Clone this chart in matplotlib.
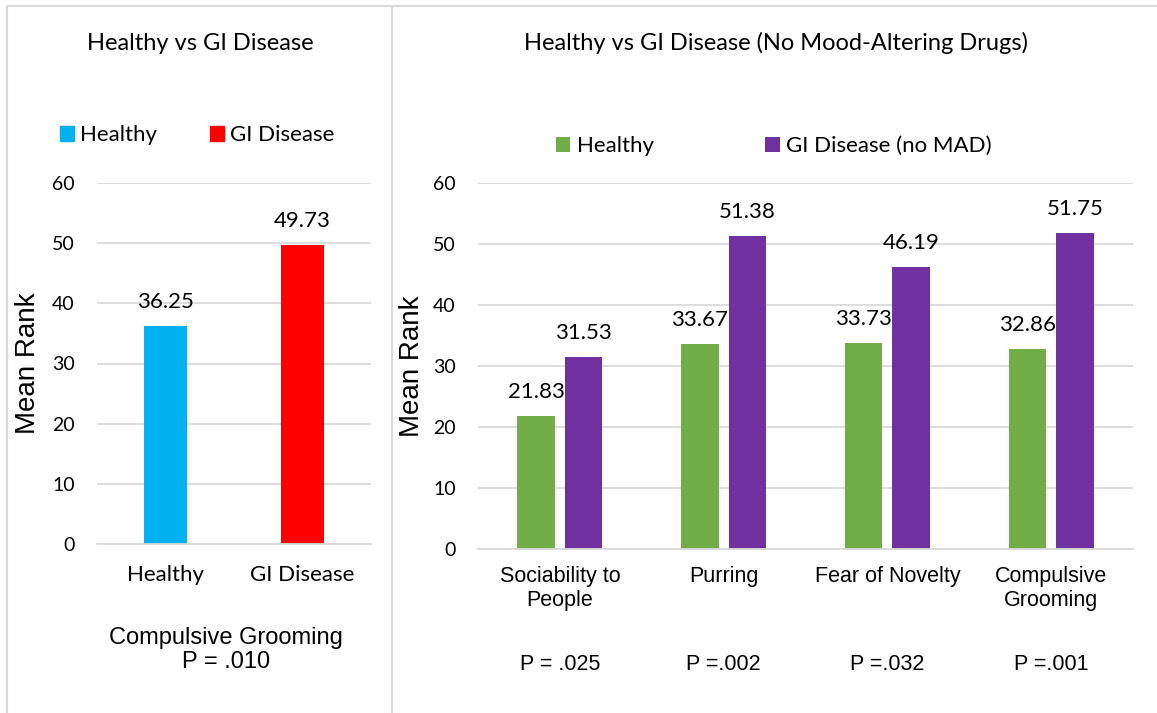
import matplotlib
matplotlib.use("Agg")
import matplotlib.pyplot as plt
from matplotlib.patches import Rectangle, Patch
from matplotlib.transforms import blended_transform_factory
import numpy as np

# ---- data ----
left_categories = ["Healthy", "GI Disease"]
left_values = [36.25, 49.73]
left_colors = ["#00B0F0", "#FF0000"]

right_categories = ["Sociability to\nPeople", "Purring", "Fear of Novelty", "Compulsive\nGrooming"]
healthy_values = [21.83, 33.67, 33.73, 32.86]
gi_nomad_values = [31.53, 51.38, 46.19, 51.75]
p_values = ["P = .025", "P =.002", "P =.032", "P =.001"]
yticks = [0, 10, 20, 30, 40, 50, 60]

W, H = 1157, 713
fig = plt.figure(figsize=(W / 100, H / 100), dpi=100)

CAL = ["Lato", "DejaVu Sans"]
ARI = ["Liberation Sans", "DejaVu Sans"]
GRID = "#D9D9D9"

# panel frames
fig.patches.append(Rectangle((7 / W, -0.01), (392 - 7) / W, 1 - 6 / H + 0.01, transform=fig.transFigure,
                             fill=False, edgecolor=GRID, linewidth=1.5))
fig.patches.append(Rectangle((392 / W, -0.01), (1160 - 392) / W, 1 - 6 / H + 0.01, transform=fig.transFigure,
                             fill=False, edgecolor=GRID, linewidth=1.5))


def style(ax):
    ax.set_ylim(0, 60)
    ax.set_yticks(yticks)
    ax.grid(axis="y", color=GRID, linewidth=1.3)
    ax.set_axisbelow(True)
    for s in ["top", "right", "left"]:
        ax.spines[s].set_visible(False)
    ax.spines["bottom"].set_color(GRID)
    ax.spines["bottom"].set_linewidth(1.3)
    ax.tick_params(length=0)
    for lab in ax.get_yticklabels():
        lab.set_fontfamily(CAL)
        lab.set_fontsize(14)
    ax.tick_params(axis="y", pad=16)
    ax.set_ylabel("Mean Rank", fontsize=20, family=ARI)


def label_bars(ax, bars, vals):
    for b, v in zip(bars, vals):
        ax.annotate(f"{v:.2f}", (b.get_x() + b.get_width() / 2, v), xytext=(0, 10),
                    textcoords="offset points", ha="center", va="bottom", fontsize=16, family=CAL)


# ---- left panel ----
axL = fig.add_axes([97 / W, 1 - 544 / H, (371 - 97) / W, (544 - 183) / H])
xl = np.arange(len(left_categories))
barsL = axL.bar(xl, left_values, width=0.314, color=left_colors)
axL.set_xlim(-0.5, 1.5)
axL.set_xticks(xl)
axL.set_xticklabels(left_categories, fontsize=16, family=CAL)
axL.tick_params(axis="x", pad=15)
style(axL)
axL.yaxis.set_label_coords(41 / W, 0.5, transform=blended_transform_factory(fig.transFigure, axL.transAxes))
label_bars(axL, barsL, left_values)
axL.legend(handles=[Patch(color=left_colors[0], label="Healthy"), Patch(color=left_colors[1], label="GI Disease")],
           loc="center", bbox_to_anchor=(197 / W, 1 - 135 / H), bbox_transform=fig.transFigure,
           ncol=2, frameon=False, handlelength=0.65, handleheight=0.65, handletextpad=0.25,
           columnspacing=2.4, prop={"family": CAL, "size": 16})
fig.text(200 / W, 1 - 43 / H, "Healthy vs GI Disease", ha="center", va="center", fontsize=17, family=CAL)
fig.text(226 / W, 1 - 650 / H, "Compulsive Grooming\nP = .010", ha="center", va="center", fontsize=17,
         family=ARI, linespacing=1.1)

# ---- right panel ----
axR = fig.add_axes([478 / W, 1 - 549 / H, (1133 - 478) / W, (549 - 183) / H])
xr = np.arange(len(right_categories))
off, bw = 0.145, 0.23
b1 = axR.bar(xr - off, healthy_values, width=bw, color="#70AD47", label="Healthy")
b2 = axR.bar(xr + off, gi_nomad_values, width=bw, color="#7030A0", label="GI Disease (no MAD)")
axR.set_xlim(-0.5, 3.5)
axR.set_xticks(xr)
axR.set_xticklabels(right_categories, fontsize=15.5, family=ARI, linespacing=1.2)
axR.tick_params(axis="x", pad=12)
style(axR)
axR.yaxis.set_label_coords(425 / W, 0.5, transform=blended_transform_factory(fig.transFigure, axR.transAxes))
label_bars(axR, b1, healthy_values)
label_bars(axR, b2, gi_nomad_values)
axR.legend(loc="center", bbox_to_anchor=(774 / W, 1 - 146 / H), bbox_transform=fig.transFigure,
           ncol=2, frameon=False, handlelength=0.65, handleheight=0.65, handletextpad=0.3,
           columnspacing=5.0, prop={"family": CAL, "size": 16})
fig.text(776 / W, 1 - 43 / H, "Healthy vs GI Disease (No Mood-Altering Drugs)", ha="center", va="center",
         fontsize=17, family=CAL)
ptrans = blended_transform_factory(axR.transData, fig.transFigure)
for x, p in zip(xr, p_values):
    axR.text(x, 1 - 664 / H, p, transform=ptrans, fontsize=15.5, family=ARI, ha="center", va="center")

fig.savefig("out.png", dpi=100)
